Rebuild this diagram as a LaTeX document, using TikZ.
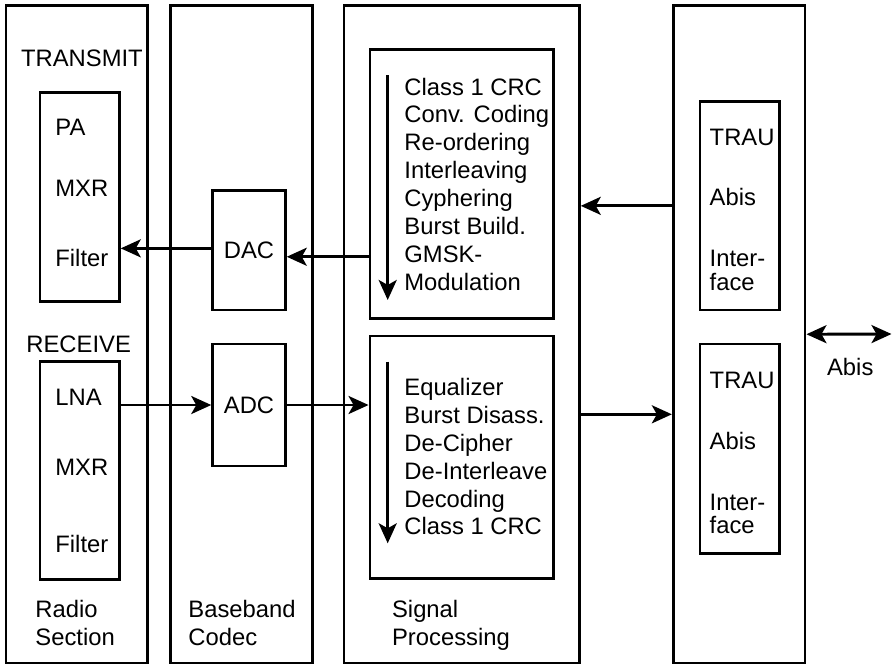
\documentclass[tikz,border=0pt]{standalone}
\usepackage{fontspec}
\setmainfont{Liberation Sans}
\usetikzlibrary{arrows.meta, positioning, fit}

\begin{document}
\begin{tikzpicture}[
    x=0.5pt, y=-0.5pt,
    panel/.style={
        rectangle,
        draw,
        line width=1.45pt,
        inner sep=0pt
    },
    txt/.style={
        inner sep=0pt,
        anchor=base west,
        font=\fontsize{11.9}{14}\selectfont
    },
    flow/.style={
        line width=1.45pt,
        -{Stealth[length=10pt, width=9pt, inset=2.5pt]}
    },
    biflow/.style={
        line width=1.45pt,
        {Stealth[length=10pt, width=9pt, inset=2.5pt]}-{Stealth[length=10pt, width=9pt, inset=2.5pt]}
    }
]
\useasboundingbox (0,0) rectangle (892,665);

% columns
\node[panel, fit={(6,5.5) (147.7,663)}] (radio) {};
\node[panel, fit={(170.7,5.5) (312.7,663)}] (codec) {};
\node[panel, fit={(344,5.5) (579.3,663)}] (dsp) {};
\node[panel, fit={(673.3,5.5) (805,663)}] (trau) {};

% inner blocks
\node[panel, fit={(40,92.7) (119.3,301.7)}] (tx) {};
\node[panel, fit={(40,361.7) (119.3,579.3)}] (rx) {};
\node[panel, fit={(212.7,190.7) (285.3,310)}] (dac) {};
\node[panel, fit={(212.7,344) (285.3,466)}] (adc) {};
\node[panel, fit={(370,49.3) (553.3,318.3)}] (dspup) {};
\node[panel, fit={(370,336) (553.3,578.3)}] (dsplow) {};
\node[panel, fit={(700,101.7) (779.3,310)}] (trauup) {};
\node[panel, fit={(700,344) (779.3,553.3)}] (traulow) {};

% radio section
\node[txt] (transmit) at (20.7,66.7) {TRANSMIT};
\node[txt] (pa) at (55,135.7) {PA};
\node[txt] (txmxr) at (55,196.7) {MXR};
\node[txt] (txfilter) at (55,266.7) {Filter};
\node[txt] (receive) at (26,352.7) {RECEIVE};
\node[txt] (lna) at (55,405) {LNA};
\node[txt] (rxmxr) at (55,475) {MXR};
\node[txt] (rxfilter) at (55,552.7) {Filter};

% codec
\node[txt, anchor=center] (dactxt) at (dac) {DAC};
\node[txt, anchor=center] (adctxt) at (adc) {ADC};

% signal processing steps
\foreach \step [count=\i from 0] in {Class 1 CRC, Conv. Coding, Re-ordering, Interleaving, Cyphering, Burst Build., GMSK-, Modulation}
    \node[txt] (txstep\i) at (404,95+27.9*\i) {\step};
\foreach \step [count=\i from 0] in {Equalizer, Burst Disass., De-Cipher, De-Interleave, Decoding, Class 1 CRC}
    \node[txt] (rxstep\i) at (404,395.9+27.8*\i) {\step};

\coordinate (txflowtop) at (387.7,75);
\coordinate (txflowend) at (387.7,300);
\coordinate (rxflowtop) at (387.7,361.7);
\coordinate (rxflowend) at (387.7,543.3);
\draw[flow] (txflowtop) -- (txflowend);
\draw[flow] (rxflowtop) -- (rxflowend);

% trau
\foreach \part/\dy in {up/0, low/243.3} {
    \node[txt] (trauname\part) at (709.3,145+\dy) {TRAU};
    \node[txt] (abis\part) at (709.3,205.7+\dy) {Abis};
    \node[txt] (inter\part) at (709.3,266.7+\dy) {Inter-};
    \node[txt] (face\part) at (709.3,290+\dy) {face};
}

% column titles
\node[txt] (radio1) at (35,617.7) {Radio};
\node[txt] (radio2) at (35,645) {Section};
\node[txt] (codec1) at (188,617.7) {Baseband};
\node[txt] (codec2) at (188,645) {Codec};
\node[txt] (dsp1) at (391.7,617.7) {Signal};
\node[txt] (dsp2) at (391.7,645) {Processing};
\node[txt] (abis) at (826.7,375) {Abis};

% connectors
\draw[flow] ([yshift=1pt]dac.west) -- ([yshift=1pt]dac.west -| tx.east);
\draw[flow] ([yshift=-3.2pt]dac.east -| dspup.west) -- ([yshift=-3.2pt]dac.east);
\draw[flow] (rx.east |- adc) -- (adc.west);
\draw[flow] (adc.east) -- (adc.east -| dsplow.west);
\draw[flow] (trau.west |- trauup) -- (dsp.east |- trauup);
\coordinate (uplink) at (626,414.3);
\draw[flow] (dsp.east |- uplink) -- (trau.west |- uplink);
\coordinate (abisend) at (891.5,334);
\draw[biflow] (trau.east) -- (abisend);

\end{tikzpicture}
\end{document}
